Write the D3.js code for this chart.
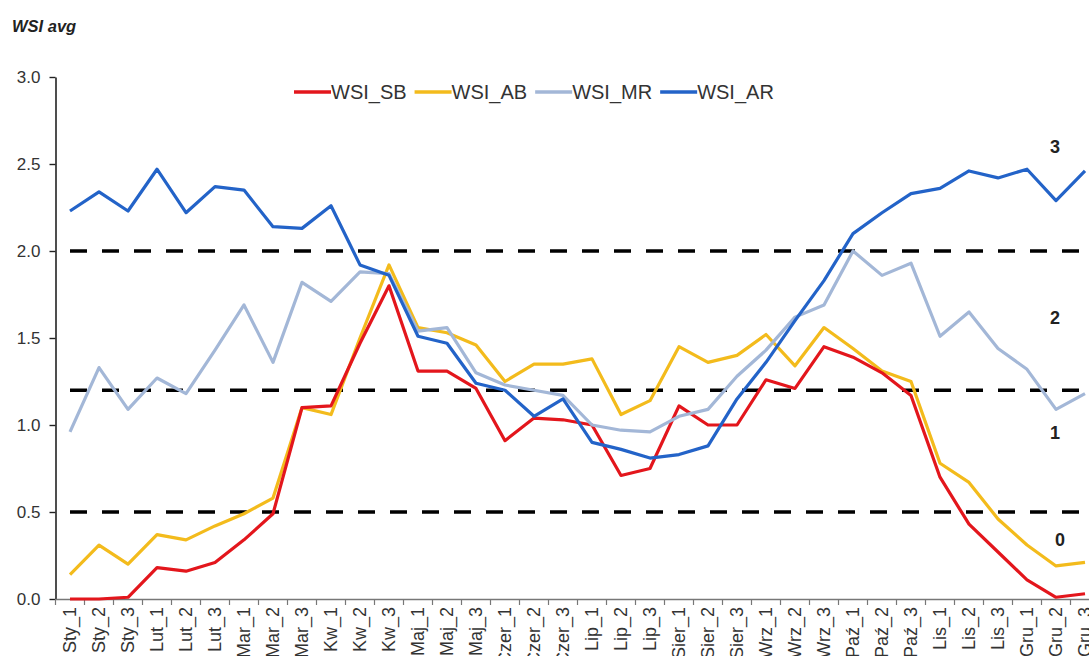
<!DOCTYPE html>
<html>
<head>
<meta charset="utf-8">
<script src="https://cdn.jsdelivr.net/npm/d3@7"></script>
<style>
  body { margin: 0; background: #fff; }
  svg { display: block; font-family: 'Liberation Sans', Arial, sans-serif; }
</style>
</head>
<body>
<div class="chart"></div>
<script>
const categories = [
  'Sty_1', 'Sty_2', 'Sty_3', 'Lut_1', 'Lut_2', 'Lut_3', 'Mar_1', 'Mar_2', 'Mar_3',
  'Kw_1', 'Kw_2', 'Kw_3', 'Maj_1', 'Maj_2', 'Maj_3', 'Czer_1', 'Czer_2', 'Czer_3',
  'Lip_1', 'Lip_2', 'Lip_3', 'Sier_1', 'Sier_2', 'Sier_3', 'Wrz_1', 'Wrz_2', 'Wrz_3',
  'Paź_1', 'Paź_2', 'Paź_3', 'Lis_1', 'Lis_2', 'Lis_3', 'Gru_1', 'Gru_2', 'Gru_3'
];
const wsiSB = [0.00, 0.00, 0.01, 0.18, 0.16, 0.21, 0.34, 0.49, 1.10, 1.11, 1.47, 1.80,
  1.31, 1.31, 1.21, 0.91, 1.04, 1.03, 1.00, 0.71, 0.75, 1.11, 1.00, 1.00,
  1.26, 1.21, 1.45, 1.39, 1.30, 1.17, 0.70, 0.43, 0.27, 0.11, 0.01, 0.03];
const wsiAB = [0.14, 0.31, 0.20, 0.37, 0.34, 0.42, 0.49, 0.58, 1.10, 1.06, 1.50, 1.92,
  1.56, 1.53, 1.46, 1.25, 1.35, 1.35, 1.38, 1.06, 1.14, 1.45, 1.36, 1.40,
  1.52, 1.34, 1.56, 1.44, 1.31, 1.25, 0.78, 0.67, 0.46, 0.31, 0.19, 0.21];
const wsiMR = [0.96, 1.33, 1.09, 1.27, 1.18, 1.43, 1.69, 1.36, 1.82, 1.71, 1.88, 1.87,
  1.54, 1.56, 1.30, 1.23, 1.20, 1.17, 1.00, 0.97, 0.96, 1.05, 1.09, 1.28,
  1.43, 1.62, 1.69, 2.00, 1.86, 1.93, 1.51, 1.65, 1.44, 1.32, 1.09, 1.18];
const wsiAR = [2.23, 2.34, 2.23, 2.47, 2.22, 2.37, 2.35, 2.14, 2.13, 2.26, 1.92, 1.86,
  1.51, 1.47, 1.24, 1.20, 1.05, 1.15, 0.90, 0.86, 0.81, 0.83, 0.88, 1.15,
  1.36, 1.60, 1.83, 2.10, 2.22, 2.33, 2.36, 2.46, 2.42, 2.47, 2.29, 2.46];
const seriesNames = ['WSI_SB', 'WSI_AB', 'WSI_MR', 'WSI_AR'];
const seriesColors = ['#e3161c', '#f3bb1c', '#a3b7d7', '#2363c8'];
const yTicks = [0, 0.5, 1.0, 1.5, 2.0, 2.5, 3.0];
const thresholds = [0.5, 1.2, 2.0];
const classLabels = ['3', '2', '1', '0'];
const classValues = [2.60, 1.615, 0.955, 0.34];

const width = 1089;
const height = 656;
const margin = { top: 77, left: 55.5, bottom: 57 };
const step = 29;

const svg = d3.select('.chart')
  .append('svg')
  .attr('width', width)
  .attr('height', height);

const x = d3.scaleBand()
  .domain(categories)
  .range([margin.left, margin.left + step * categories.length])
  .padding(0);

const y = d3.scaleLinear()
  .domain([0, 3])
  .range([height - margin.bottom, margin.top]);

const xc = d => x(d) + x.bandwidth() / 2;

// title
svg.append('text')
  .attr('x', 12)
  .attr('y', 32)
  .attr('font-size', 16.5)
  .attr('font-weight', 'bold')
  .attr('font-style', 'italic')
  .attr('fill', '#222')
  .text('WSI avg');

// y axis
const yAxis = svg.append('g')
  .attr('transform', `translate(${margin.left},0)`)
  .call(d3.axisLeft(y).tickValues(yTicks).tickFormat(d3.format('.1f')).tickSize(6).tickSizeOuter(0).tickPadding(9));
yAxis.select('.domain').attr('stroke', '#222').attr('stroke-width', 1.6);
yAxis.selectAll('.tick line').attr('stroke', '#222').attr('stroke-width', 1.4);
yAxis.selectAll('.tick text').attr('font-size', 17).attr('fill', '#333').attr('font-family', "'Liberation Sans', Arial, sans-serif");

// x axis
const xAxis = svg.append('g')
  .attr('transform', `translate(0,${y(0)})`)
  .call(d3.axisBottom(x).tickSize(0).tickSizeOuter(0).tickPadding(0));
xAxis.select('.domain').attr('stroke', '#777').attr('stroke-width', 1.3);
xAxis.selectAll('.tick text')
  .attr('font-size', 18)
  .attr('fill', '#333')
  .attr('font-family', "'Liberation Sans', Arial, sans-serif")
  .attr('text-anchor', 'end')
  .attr('transform', 'rotate(-90)')
  .attr('x', -8)
  .attr('y', 0)
  .attr('dy', '0.35em');

xAxis.selectAll('.bound')
  .data(categories)
  .enter()
  .append('line')
  .attr('class', 'bound')
  .attr('x1', d => x(d))
  .attr('x2', d => x(d))
  .attr('y1', 0)
  .attr('y2', 6)
  .attr('stroke', '#777')
  .attr('stroke-width', 1.2);

// threshold lines
svg.selectAll('.threshold')
  .data(thresholds)
  .enter()
  .append('line')
  .attr('class', 'threshold')
  .attr('x1', xc(categories[0]))
  .attr('x2', width)
  .attr('y1', d => y(d))
  .attr('y2', d => y(d))
  .attr('stroke', '#000')
  .attr('stroke-width', 3.5)
  .attr('stroke-dasharray', '17,15');

// series lines
const seriesData = [wsiAB, wsiSB, wsiMR, wsiAR];
const seriesIdx = [1, 0, 2, 3];
const line = d3.line()
  .x((d, i) => xc(categories[i]))
  .y(d => y(d));

seriesData.forEach((values, k) => {
  svg.append('path')
    .datum(values)
    .attr('fill', 'none')
    .attr('stroke', seriesColors[seriesIdx[k]])
    .attr('stroke-width', 3.2)
    .attr('stroke-linejoin', 'round')
    .attr('d', line);
});

// class labels
svg.selectAll('.cls')
  .data(classLabels)
  .enter()
  .append('text')
  .attr('class', 'cls')
  .attr('x', (d, i) => (i === 3 ? 1060 : 1055))
  .attr('y', (d, i) => y(classValues[i]))
  .attr('text-anchor', 'middle')
  .attr('dy', '0.35em')
  .attr('font-size', 18)
  .attr('font-weight', 'bold')
  .attr('fill', '#222')
  .text(d => d);

// legend
const legend = svg.append('g').attr('transform', 'translate(294,92)');
let lx = 0;
seriesNames.forEach((name, i) => {
  legend.append('line')
    .attr('x1', lx)
    .attr('x2', lx + 37)
    .attr('y1', 0)
    .attr('y2', 0)
    .attr('stroke', seriesColors[i])
    .attr('stroke-width', 3.5);
  const t = legend.append('text')
    .attr('x', lx + 37)
    .attr('y', 0)
    .attr('dy', '0.35em')
    .attr('font-size', 20)
    .attr('fill', '#333')
    .text(name);
  lx += 37 + t.node().getComputedTextLength() + 8;
});
</script>
</body>
</html>
